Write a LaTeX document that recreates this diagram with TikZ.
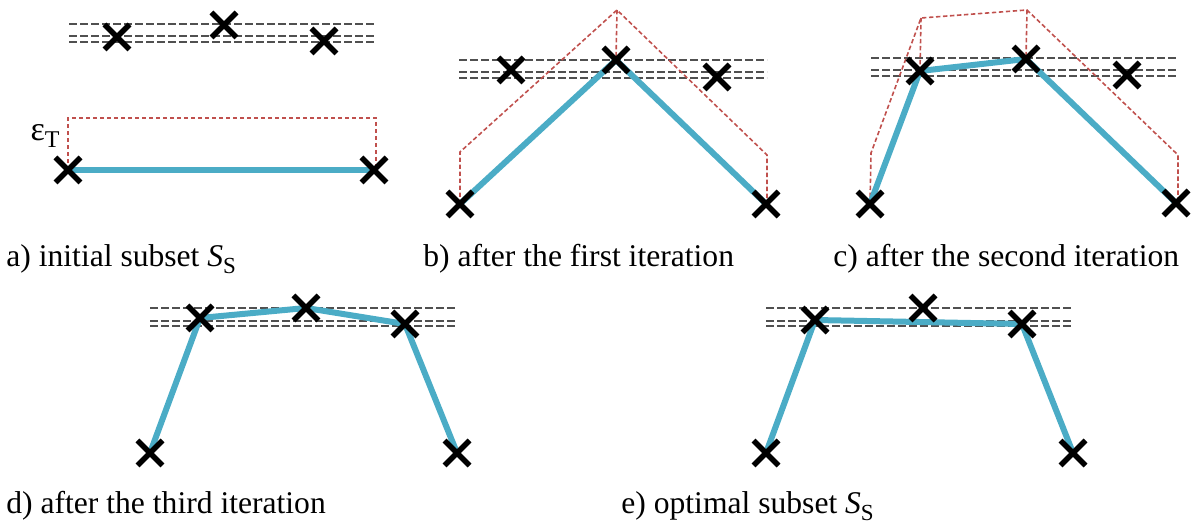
\documentclass[tikz,border=0pt]{standalone}
\usepackage{fontspec}
\setmainfont{Liberation Serif}
\usetikzlibrary{shapes.misc,backgrounds}
\definecolor{fitblue}{HTML}{4BACC6}
\definecolor{tolred}{HTML}{C0504D}
\definecolor{bandgray}{HTML}{505050}
\tikzset{
  ptmark/.style={cross out, draw=black, line width=2.7pt, minimum size=12.5pt, inner sep=0pt, outer sep=0pt},
  fitline/.style={draw=fitblue, line width=3pt, line join=round},
  tolline/.style={draw=tolred, line width=0.8pt, dash pattern=on 2.2pt off 1.3pt},
  bandline/.style={draw=bandgray, line width=0.8pt, dash pattern=on 4pt off 1.5pt},
  lbl/.style={anchor=base west, inner sep=0pt, font=\fontsize{15.8}{18}\selectfont}
}
\newcommand{\Ssub}{\textit{S}\raisebox{-0.22em}{\fontsize{11.5}{13}\selectfont S}}
\begin{document}
\begin{tikzpicture}[x=0.5pt,y=-0.5pt]
\useasboundingbox (0,0) rectangle (1200,528);
% ---------- panel a
\node[ptmark] (a1) at (117,37) {};
\node[ptmark] (a2) at (224,25) {};
\node[ptmark] (a3) at (324,41) {};
\node[ptmark] (a0) at (68,170) {};
\node[ptmark] (a4) at (374,170) {};
\node[anchor=center, inner sep=0pt, font=\fontsize{17}{19}\selectfont] (aeps) at (45,136) {ε\raisebox{-0.22em}{\fontsize{12}{13}\selectfont T}};
\node[lbl] (acap) at (6,267) {a) initial subset \Ssub};
% ---------- panel b
\node[ptmark] (b1) at (511,70) {};
\node[ptmark] (b2) at (616,60) {};
\node[ptmark] (b3) at (717,77) {};
\node[ptmark] (b0) at (460,204) {};
\node[ptmark] (b4) at (766,204) {};
\node[lbl] (bcap) at (423,267) {b) after the first iteration};
% ---------- panel c
\node[ptmark] (c1) at (920,71) {};
\node[ptmark] (c2) at (1026,59) {};
\node[ptmark] (c3) at (1127,75) {};
\node[ptmark] (c0) at (870,204) {};
\node[ptmark] (c4) at (1176,203) {};
\node[lbl] (ccap) at (833,267) {c) after the second iteration};
% ---------- panel d
\node[ptmark] (d1) at (200,318) {};
\node[ptmark] (d2) at (306,308) {};
\node[ptmark] (d3) at (405,324) {};
\node[ptmark] (d0) at (150,453) {};
\node[ptmark] (d4) at (457,453) {};
\node[lbl] (dcap) at (6,514) {d) after the third iteration};
% ---------- panel e
\node[ptmark] (e1) at (815,320) {};
\node[ptmark] (e2) at (923,308) {};
\node[ptmark] (e3) at (1022,324) {};
\node[ptmark] (e0) at (766,453) {};
\node[ptmark] (e4) at (1073,453) {};
\node[lbl] (ecap) at (621,514) {e) optimal subset \Ssub};

\begin{scope}[on background layer]
  % bands
  \foreach \y in {24,36,42} \draw[bandline] (69,\y) -- (376,\y);
  \foreach \y in {60,72,78} \draw[bandline] (459,\y) -- (767,\y);
  \foreach \y in {58,70,76} \draw[bandline] (871,\y) -- (1177,\y);
  \foreach \y in {308,321,326} \draw[bandline] (150,\y) -- (457,\y);
  \foreach \y in {308,321,326} \draw[bandline] (766,\y) -- (1072,\y);
  % tolerance polylines
  \draw[tolline] (a0.center) -- (68,118) -- (376,118) -- (376,170) -- (a4.center);
  \draw[tolline] (b0.center) -- (460,152) -- (617,10) -- (767,155) -- (767,204) -- (b4.center);
  \draw[tolline] (617,10) -- (b2.center);
  \draw[tolline] (c0.center) -- (871,153) -- (921,18) -- (1027,10) -- (1178,155) -- (1178,203) -- (c4.center);
  \draw[tolline] (921,18) -- (c1.center);
  \draw[tolline] (1027,10) -- (c2.center);
  % fitted polylines
  \draw[fitline] (a0.center) -- (a4.center);
  \draw[fitline] (b0.center) -- (b2.center) -- (b4.center);
  \draw[fitline] (c0.center) -- (c1.center) -- (c2.center) -- (c4.center);
  \draw[fitline] (d0.center) -- (d1.center) -- (d2.center) -- (d3.center) -- (d4.center);
  \draw[fitline] (e0.center) -- (e1.center) -- (e3.center) -- (e4.center);
\end{scope}
\end{tikzpicture}
\end{document}
